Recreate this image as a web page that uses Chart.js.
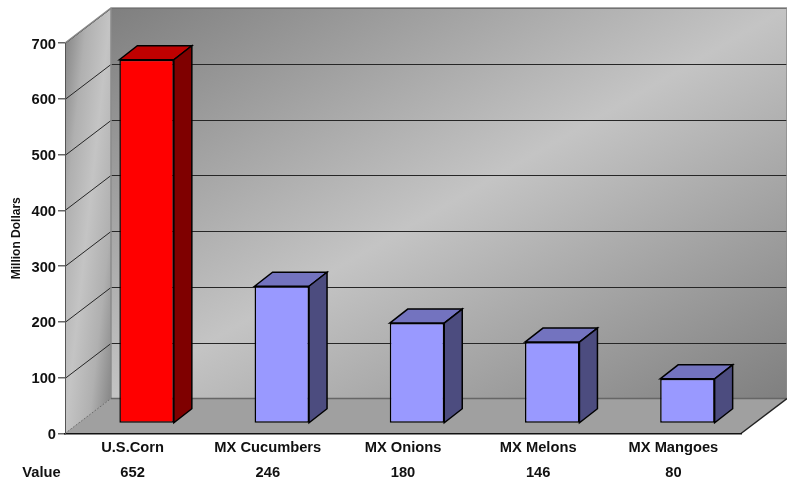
<!DOCTYPE html>
<html>
<head>
<meta charset="utf-8">
<script src="https://cdn.jsdelivr.net/npm/chart.js@4"></script>
<style>
  body { margin: 0; background: #fff; }
</style>
</head>
<body>
<canvas id="myChart" width="787" height="485"></canvas>
<script>
var categories = ["U.S.Corn", "MX Cucumbers", "MX Onions", "MX Melons", "MX Mangoes"];
var values = [652, 246, 180, 146, 80];
var yTicks = [0, 100, 200, 300, 400, 500, 600, 700];

var faceColors = ["#ff0000", "#9999ff", "#9999ff", "#9999ff", "#9999ff"];
var topColors = ["#bf0000", "#7373bf", "#7373bf", "#7373bf", "#7373bf"];
var sideColors = ["#7f0000", "#4c4c7f", "#4c4c7f", "#4c4c7f", "#4c4c7f"];

// depth of the room and of each bar, plus how far bars sit in from the front edge
var roomDx = 46, roomDy = -35;
var barDx = 18, barDy = -14;
var barShiftX = 14, barShiftY = -10;
var labelFont = { family: "'Liberation Sans', Arial, sans-serif", size: 14.7, weight: "bold" };

// grey-light-grey sweep whose bands run along the box's rising diagonal;
// shoulder is an optional in-between grey that widens the light band
function sweep(ctx, x0, y0, x1, y1, dark, light, shoulder) {
  var w = x1 - x0, h = y1 - y0;
  var k = (w * h) / (w * w + h * h);
  var cx = (x0 + x1) / 2, cy = (y0 + y1) / 2;
  var g = ctx.createLinearGradient(cx - h * k, cy - w * k, cx + h * k, cy + w * k);
  g.addColorStop(0, dark);
  if (shoulder) g.addColorStop(0.25, shoulder);
  g.addColorStop(0.5, light);
  if (shoulder) g.addColorStop(0.75, shoulder);
  g.addColorStop(1, dark);
  return g;
}

function poly(ctx, pts, fill, stroke, lw) {
  ctx.beginPath();
  ctx.moveTo(pts[0][0], pts[0][1]);
  for (var i = 1; i < pts.length; i++) ctx.lineTo(pts[i][0], pts[i][1]);
  ctx.closePath();
  if (fill) { ctx.fillStyle = fill; ctx.fill(); }
  if (stroke) { ctx.strokeStyle = stroke; ctx.lineWidth = lw || 1; ctx.stroke(); }
}

var room = {
  id: "room",
  beforeDraw: function (chart) {
    var c = chart.ctx, a = chart.chartArea, y = chart.scales.y;
    var l = a.left, r = a.right, t = a.top, b = a.bottom;
    var bl = l + roomDx, br = r + roomDx, bt = t + roomDy, bb = b + roomDy;

    poly(c, [[bl, bt], [787, bt], [787, bb], [bl, bb]], sweep(c, bl, bt, 787, bb, "#7f7f7f", "#c4c4c4"));
    poly(c, [[l, t], [bl, bt], [bl, bb], [l, b]], sweep(c, l, bt, bl, b, "#7f7f7f", "#c4c4c4", "#b0b0b0"));
    poly(c, [[l, b], [bl, bb], [br, bb], [r, b]], "#a0a0a0");

    // gridlines run along the back wall and down the side wall
    c.save();
    c.strokeStyle = "#262626";
    c.lineWidth = 1;
    y.ticks.forEach(function (tk) {
      if (tk.value === 0) return;
      var py = Math.round(y.getPixelForValue(tk.value)) + 0.5;
      c.beginPath();
      c.moveTo(l, py);
      c.lineTo(bl, py + roomDy);
      c.lineTo(787, py + roomDy);
      c.stroke();
    });
    c.restore();

    // room edges
    c.save();
    c.strokeStyle = "#8c8c8c";
    c.lineWidth = 1.5;
    c.beginPath();
    c.moveTo(l, t);
    c.lineTo(bl, bt);
    c.lineTo(787, bt);
    c.lineTo(787, bb);
    c.moveTo(bl, bt);
    c.lineTo(bl, bb);
    c.stroke();
    c.strokeStyle = "#666666";
    c.beginPath();
    c.moveTo(bl, bb);
    c.lineTo(787, bb);
    c.stroke();
    c.strokeStyle = "#555555";
    c.lineWidth = 1;
    c.setLineDash([1, 1]);
    c.beginPath();
    c.moveTo(l, b);
    c.lineTo(bl, bb);
    c.stroke();
    c.setLineDash([]);
    c.strokeStyle = "#222222";
    c.lineWidth = 1.5;
    c.beginPath();
    c.moveTo(r, b);
    c.lineTo(br, bb);
    c.stroke();
    c.restore();
  },
  beforeDatasetDraw: function (chart, args) {
    var c = chart.ctx;
    c.save();
    c.translate(barShiftX, barShiftY);
    args.meta.data.forEach(function (bar, i) {
      var x0 = bar.x - bar.width / 2, x1 = bar.x + bar.width / 2;
      var top = bar.y, base = bar.base;
      poly(c, [[x0, top], [x0 + barDx, top + barDy], [x1 + barDx, top + barDy], [x1, top]], topColors[i], "#000", 1.5);
      poly(c, [[x1, top], [x1 + barDx, top + barDy], [x1 + barDx, base + barDy], [x1, base]], sideColors[i], "#000", 1.5);
    });
  },
  afterDatasetDraw: function (chart) {
    chart.ctx.restore();
  },
  afterDraw: function (chart) {
    var c = chart.ctx;
    c.save();
    c.font = "bold 14.7px 'Liberation Sans', Arial, sans-serif";
    c.fillStyle = "#111";
    c.textAlign = "center";
    c.textBaseline = "middle";
    c.fillText("Value", 41.5, 473);
    c.restore();
  }
};

var ctx = document.getElementById("myChart").getContext("2d");
var myChart = new Chart(ctx, {
  type: "bar",
  data: {
    labels: categories.map(function (name, i) { return [name, String(values[i])]; }),
    datasets: [{
      data: values,
      backgroundColor: faceColors,
      borderColor: "#000",
      borderWidth: 1.5,
      borderSkipped: false,
      barPercentage: 0.403,
      categoryPercentage: 1,
      clip: false
    }]
  },
  options: {
    responsive: false,
    animation: false,
    layout: { padding: { top: 43, right: 46 } },
    plugins: { legend: { display: false }, tooltip: { enabled: false } },
    scales: {
      x: {
        afterFit: function (s) { s.height = 51.5; },
        grid: { display: false, drawTicks: false },
        border: { display: true, color: "#111", width: 1.5 },
        ticks: {
          color: "#111",
          font: Object.assign({}, labelFont, { lineHeight: 1.72 }),
          maxRotation: 0,
          autoSkip: false,
          padding: 2
        }
      },
      y: {
        min: 0,
        max: 700,
        afterBuildTicks: function (s) {
          s.ticks = yTicks.map(function (v) { return { value: v }; });
        },
        afterFit: function (s) { s.width = 65; },
        grid: { drawOnChartArea: false, drawTicks: true, tickLength: 7, color: "#666", lineWidth: 1.5 },
        border: { display: true, color: "#555", width: 1 },
        title: {
          display: true,
          text: "Million Dollars",
          color: "#111",
          font: { family: labelFont.family, size: 12, weight: "bold" },
          padding: { top: 9, bottom: 0 }
        },
        ticks: { color: "#111", font: labelFont, padding: 2, labelOffset: 1.5 }
      }
    }
  },
  plugins: [room]
});
</script>
</body>
</html>
